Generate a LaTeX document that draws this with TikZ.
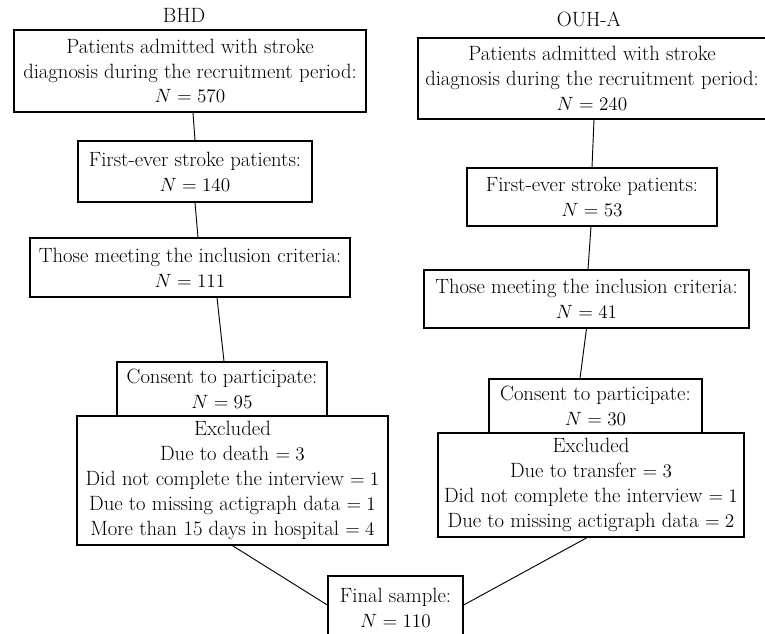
\documentclass[tikz,border=0pt]{standalone}
\usepackage{tikz}
\usetikzlibrary{calc,positioning}
\newlength{\pxu}
\setlength{\pxu}{0.75pt}

\begin{document}
\begin{tikzpicture}[x=0.75pt,y=-0.75pt,every node/.style={font=\fontsize{15.5}{18.6}\selectfont}]
\tikzstyle{stage}=[draw,line width=1pt,align=center,inner sep=0pt]
\tikzstyle{link}=[line width=0.7pt]
\useasboundingbox (0,0) rectangle (765,634);
\clip (0,0) rectangle (765,634);
% BHD
\node (bhd) at (184,15) {BHD};
\node[stage,minimum width=352\pxu,minimum height=82\pxu] (l1) at (190,71) {Patients admitted with stroke\\diagnosis during the recruitment period:\\$N=570$};
\node[stage,minimum width=234\pxu,minimum height=61\pxu] (l2) at (195,171.5) {First-ever stroke patients:\\$N=140$};
\node[stage,minimum width=320\pxu,minimum height=59\pxu] (l3) at (190,267.5) {Those meeting the inclusion criteria:\\$N=111$};
\node[stage,minimum width=210\pxu,minimum height=54\pxu] (l4) at (222,389) {Consent to participate:\\$N=95$};
\node[stage,minimum width=311\pxu,minimum height=129\pxu] (l5) at (232.5,480.5) {Excluded\\Due to death $=3$\\Did not complete the interview $=1$\\Due to missing actigraph data $=1$\\More than 15 days in hospital $=4$};
% OUH-A
\node (ouh) at (589,19) {OUH-A};
\node[stage,minimum width=348\pxu,minimum height=81\pxu] (r1) at (592,78.5) {Patients admitted with stroke\\diagnosis during the recruitment period:\\$N=240$};
\node[stage,minimum width=250\pxu,minimum height=58\pxu] (r2) at (592,197) {First-ever stroke patients:\\$N=53$};
\node[stage,minimum width=325\pxu,minimum height=58\pxu] (r3) at (586.5,299) {Those meeting the inclusion criteria:\\$N=41$};
\node[stage,minimum width=213\pxu,minimum height=54\pxu] (r4) at (595.5,406) {Consent to participate:\\$N=30$};
\node[stage,minimum width=306\pxu,minimum height=104\pxu] (r5) at (591,485) {Excluded\\Due to transfer $=3$\\Did not complete the interview $=1$\\Due to missing actigraph data $=2$};
% final
\node[stage,minimum width=135\pxu,minimum height=64\pxu] (fin) at (395.5,608) {Final sample:\\$N=110$};
\draw[link] ($(l1.south)+(3,0)$)--(l2.north);
\draw[link] (l2.south)--($(l3.north)+(8,0)$);
\draw[link] ($(l3.south)+(27,0)$)--($(l4.north)+(2,0)$);
\draw[link] (l5.south)--($(fin.west)+(0,-3)$);
\draw[link] ($(r1.south)+(2,0)$)--(r2.north);
\draw[link] ($(r2.south)+(-1,0)$)--($(r3.north)+(1.5,0)$);
\draw[link] (r3.south)--($(r4.north)+(-15.5,0)$);
\draw[link] ($(r5.south)+(-4,0)$)--($(fin.east)+(0,-3)$);
\end{tikzpicture}
\end{document}
